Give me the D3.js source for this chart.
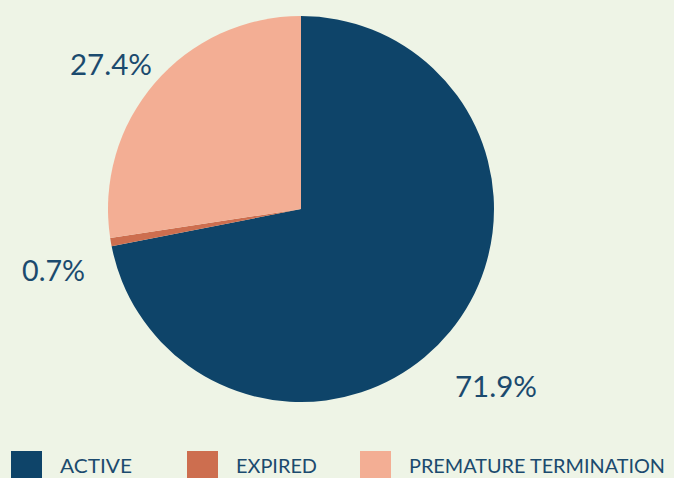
<!DOCTYPE html>
<html><head><meta charset="utf-8">
<script src="https://cdn.jsdelivr.net/npm/d3@7"></script>
<style>html,body{margin:0;padding:0;background:#eef4e6;overflow:hidden}</style>
</head><body>
<svg id="c" width="674" height="478"></svg>
<script>
const categories = ["ACTIVE", "EXPIRED", "PREMATURE TERMINATION"];
const values = [71.9, 0.7, 27.4];
const labels = ["71.9%", "0.7%", "27.4%"];
const colors = ["#0e4469", "#cd6e4f", "#f3ae94"];

const svg = d3.select("#c");
svg.append("rect").attr("width", 674).attr("height", 478).attr("fill", "#eef4e6");
const cx = 301, cy = 209, r = 193;
const pie = d3.pie().sort(null).value(d => d)(values);
const arc = d3.arc().innerRadius(0).outerRadius(r);
const g = svg.append("g").attr("transform", `translate(${cx},${cy})`);
g.selectAll("path").data(pie).join("path")
  .attr("d", arc).attr("fill", (d, i) => colors[i]);

const labelPos = [[455, 397], [22, 281], [70, 75]];
const labelW = [82, 63, 82];
svg.selectAll("text.lbl").data(labels).join("text").attr("class", "lbl")
  .attr("x", (d, i) => labelPos[i][0]).attr("y", (d, i) => labelPos[i][1])
  .attr("textLength", (d, i) => labelW[i]).attr("lengthAdjust", "spacingAndGlyphs")
  .attr("font-family", "Lato, sans-serif").attr("font-size", 29)
  .attr("fill", "#1b4a6e").text(d => d);

const legX = [11, 187, 360];
const textW = [72, 81, 256];
const leg = svg.selectAll("g.leg").data(categories).join("g").attr("class", "leg")
  .attr("transform", (d, i) => `translate(${legX[i]},451)`);
leg.append("rect").attr("width", 31).attr("height", 27).attr("fill", (d, i) => colors[i]);
leg.append("text").attr("x", 49).attr("y", 22)
  .attr("textLength", (d, i) => textW[i]).attr("lengthAdjust", "spacingAndGlyphs")
  .attr("font-family", "Lato, sans-serif").attr("font-size", 20)
  .attr("fill", "#1b4a6e").text(d => d);
</script>
</body></html>
